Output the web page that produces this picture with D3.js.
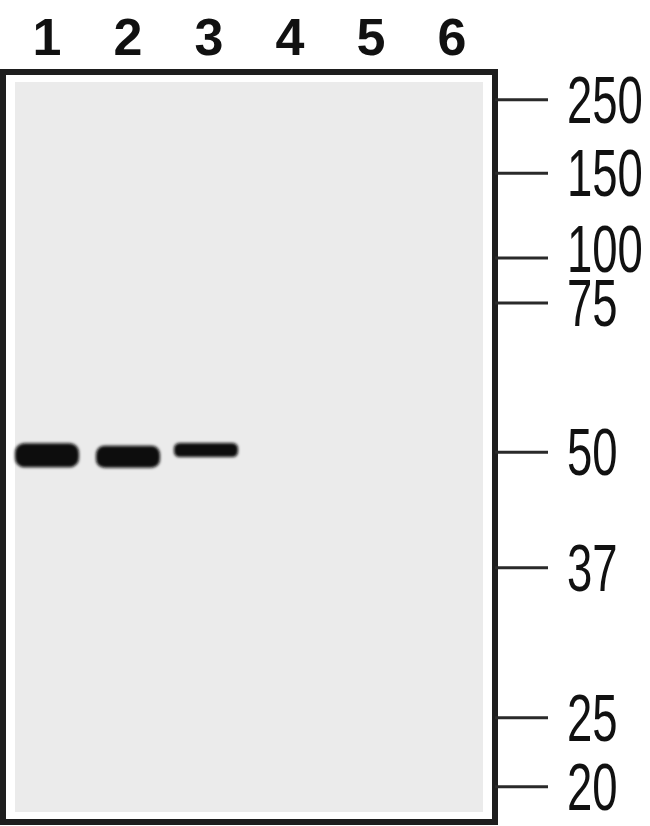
<!DOCTYPE html>
<html>
<head>
  <meta http-equiv="Content-Type" content="text/html; charset=UTF-8" />
  <title>Western blot</title>
  <style>
    body {
      padding: 0;
      margin: 0;
      background: #fff;
    }
  </style>
</head>
<body>

<svg width="650" height="826" xmlns="http://www.w3.org/2000/svg"></svg>

<script src="https://d3js.org/d3.v7.min.js"></script>
<script>

// lanes across the top
var lanes = ["1", "2", "3", "4", "5", "6"]

// molecular weight markers (kDa) and their relative migration (0 = top of membrane, 1 = bottom)
var markers = [250, 150, 100, 75, 50, 37, 25, 20]
var markerRf = [0.037, 0.135, 0.248, 0.308, 0.507, 0.661, 0.861, 0.953]

// detected bands: lane, relative migration, signal strength
var bandLanes = ["1", "2", "3"]
var bandRf = [0.511, 0.513, 0.504]
var bandSignal = [1.0, 0.92, 0.58]

var svg = d3.select("svg")

var y = d3.scaleLinear().domain([0, 1]).range([72, 822])
var x = d3.scalePoint().domain(lanes).range([47, 452])
var thick = d3.scaleLinear().domain([0, 1]).range([0, 24])

var defs = svg.append("defs")
defs.append("filter")
  .attr("id", "soft")
  .attr("x", "-20%").attr("y", "-50%")
  .attr("width", "140%").attr("height", "200%")
  .append("feGaussianBlur")
  .attr("stdDeviation", 1.8)

// membrane
svg.append("rect")
  .attr("x", 3).attr("y", 72)
  .attr("width", 492).attr("height", 750)
  .style("fill", "#fff")

svg.append("rect")
  .attr("x", 15).attr("y", 82)
  .attr("width", 468).attr("height", 730)
  .style("fill", "#ebebeb")

// bands
svg.selectAll("rect.band")
  .data(bandLanes)
  .enter()
  .append("rect")
  .attr("class", "band")
  .attr("x", (d, i) => x(d) - 32 - (i === 2 ? 3 : 0))
  .attr("y", (d, i) => y(bandRf[i]) - thick(bandSignal[i]) / 2)
  .attr("width", 64)
  .attr("height", (d, i) => thick(bandSignal[i]))
  .attr("rx", (d, i) => thick(bandSignal[i]) / 2.6)
  .style("fill", "#0a0a0a")
  .attr("filter", "url(#soft)")

// frame
svg.append("rect")
  .attr("x", 3).attr("y", 72)
  .attr("width", 492).attr("height", 750)
  .style("fill", "none")
  .style("stroke", "#1e1e1e")
  .style("stroke-width", 6)

// lane labels
svg.selectAll("text.lane")
  .data(lanes)
  .enter()
  .append("text")
  .attr("class", "lane")
  .attr("x", d => x(d))
  .attr("y", 55)
  .style("text-anchor", "middle")
  .style("font-family", "'Liberation Sans', Arial, sans-serif")
  .style("font-weight", "bold")
  .style("font-size", "52px")
  .style("fill", "#111")
  .text(d => d)

// marker ticks
svg.selectAll("line.tick")
  .data(markers)
  .enter()
  .append("line")
  .attr("class", "tick")
  .attr("x1", 495).attr("x2", 548)
  .attr("y1", (d, i) => y(markerRf[i]))
  .attr("y2", (d, i) => y(markerRf[i]))
  .style("stroke", "#2a2a2a")
  .style("stroke-width", 3)

// marker labels, pushed up where they would collide
var capH = 48
var base = markers.map((d, i) => y(markerRf[i]) + 23)
for (var i = base.length - 2; i >= 0; i--) {
  var limit = base[i + 1] - capH - 6
  if (base[i] > limit) base[i] = limit
}

// condensed look: squeeze each label horizontally to ~25px per digit
svg.selectAll("text.marker")
  .data(markers)
  .enter()
  .append("text")
  .attr("class", "marker")
  .style("font-family", "'Liberation Sans Narrow', 'Liberation Sans', Arial, sans-serif")
  .style("font-size", "66px")
  .style("fill", "#111")
  .text(d => d)
  .attr("transform", function(d, i) {
    var natural = this.getComputedTextLength()
    var sx = (String(d).length * 25.3) / natural
    return "translate(567," + base[i] + ") scale(" + sx + ",1)"
  })

</script>
</body>
</html>
